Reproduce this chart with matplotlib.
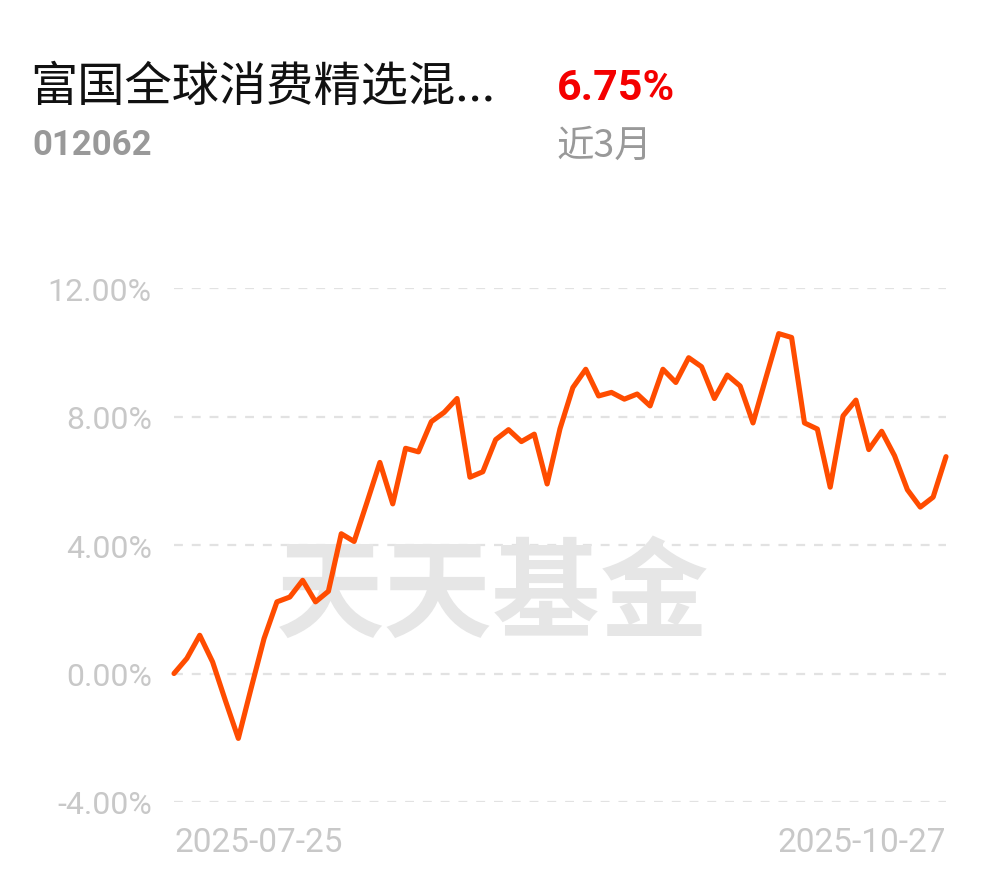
import matplotlib.pyplot as plt
import numpy as np

DPI = 100
W, H = 990, 878

# 近3月收益率走势 (%)
returns = [
    0.00, 0.47, 1.19, 0.36, -0.85, -2.02, -0.45, 1.09, 2.23, 2.38,
    2.90, 2.23, 2.56, 4.35, 4.11, 5.33, 6.57, 5.28, 7.01, 6.90,
    7.84, 8.13, 8.56, 6.11, 6.28, 7.28, 7.59, 7.22, 7.45, 5.90,
    7.62, 8.90, 9.47, 8.64, 8.75, 8.54, 8.70, 8.33, 9.47, 9.06,
    9.83, 9.55, 8.56, 9.29, 8.95, 7.80, 9.20, 10.58, 10.46, 7.80,
    7.61, 5.80, 8.02, 8.51, 6.97, 7.54, 6.78, 5.72, 5.18, 5.49,
    6.75,
]
y_ticks = [-4, 0, 4, 8, 12]
y_labels = ["-4.00%", "0.00%", "4.00%", "8.00%", "12.00%"]
x_labels = ["2025-07-25", "2025-10-27"]

fund_name = "富国全球消费精选混..."
fund_code = "012062"
period_return = "6.75%"
period_name = "近3月"

CJK = ['Noto Sans CJK SC', 'DejaVu Sans']
NUM = ['Roboto', 'DejaVu Sans']
LINE_COLOR = "#FF4C00"
LABEL_GRAY = "#c8c8c8"

fig = plt.figure(figsize=(W / DPI, H / DPI), dpi=DPI)
fig.patch.set_facecolor("white")

# 图表区域(像素换算)
left, right, top, bottom = 174, 946, 289, 803
ax = fig.add_axes([left / W, 1 - bottom / H, (right - left) / W, (bottom - top) / H])

steps = np.arange(len(returns))
ax.plot(steps, returns, color=LINE_COLOR, lw=3.7, solid_joinstyle="round",
        solid_capstyle="round", clip_on=False, zorder=3)

ax.set_xlim(0, len(returns) - 1)
ax.set_ylim(-4, 12)

# 虚线网格
for v in y_ticks:
    ax.axhline(v, color="#e2e2e2", lw=1.6, ls=(0, (4, 4)), zorder=1)

ax.set_yticks(y_ticks)
ax.set_yticklabels(y_labels, family=NUM, fontsize=23, color=LABEL_GRAY)
ax.set_xticks([0, len(returns) - 1])
ax.set_xticklabels(x_labels, family=NUM, fontsize=24, color=LABEL_GRAY)
ax.get_xticklabels()[0].set_ha("left")
ax.get_xticklabels()[1].set_ha("right")
ax.tick_params(axis="y", length=0, pad=16)
ax.tick_params(axis="x", length=0, pad=17)
for s in ax.spines.values():
    s.set_visible(False)

# 水印
ax.text(0.413, 0.40, "天天基金", transform=ax.transAxes, ha="center", va="center",
        family=CJK, fontsize=78, fontweight="heavy", color="#e6e6e6", zorder=2)

# 顶部信息
fig.text(30 / W, 1 - 88 / H, fund_name, family=CJK, fontsize=34, color="#111111",
         ha="left", va="center")
fig.text(557 / W, 1 - 88 / H, period_return, family=NUM, fontsize=31, fontweight="bold",
         color="#F40000", ha="left", va="center")
fig.text(32 / W, 1 - 146 / H, fund_code, family=NUM, fontsize=25, fontweight="bold",
         color="#999999", ha="left", va="center")
fig.text(556 / W, 1 - 146 / H, period_name, family=CJK, fontsize=27, color="#999999",
         ha="left", va="center")

plt.savefig("out.png", dpi=DPI)
plt.close()
